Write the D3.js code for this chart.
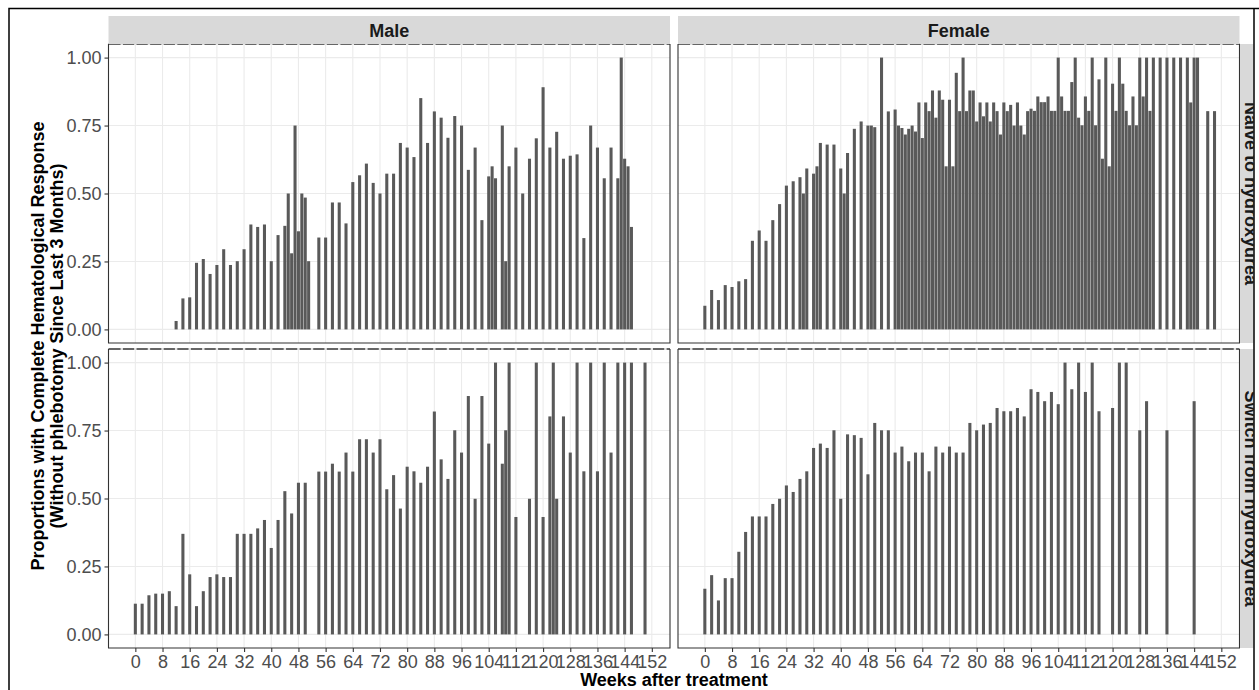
<!DOCTYPE html>
<html>
<head>
<meta charset="utf-8">
<script src="https://cdn.jsdelivr.net/npm/d3@7"></script>
<style>
  body { margin: 0; background: #fff; }
  svg { display: block; font-family: "Liberation Sans", Arial, sans-serif; }
</style>
</head>
<body>
<svg id="canvas" width="1259" height="690"></svg>
<script>
const sexes = ["Male", "Female"];
const groups = ["Naive to hydroxyurea", "Switch from hydroxyurea"];
const xTicks = [0, 8, 16, 24, 32, 40, 48, 56, 64, 72, 80, 88, 96, 104, 112, 120, 128, 136, 144, 152];
const yTicks = [0, 0.25, 0.5, 0.75, 1];
const yTitle = ["Proportions with Complete Hematological Response", "(Without phlebotomy Since Last 3 Months)"];
const xTitle = "Weeks after treatment";

// [week, proportion]
const maleNaive = [
  [12, 0.031], [14, 0.114], [16, 0.118], [18, 0.245], [20, 0.259], [22, 0.204], [24, 0.237], [26, 0.295],
  [28, 0.237], [30, 0.251], [32, 0.295], [34, 0.386], [36, 0.377], [38, 0.386], [40, 0.251], [42, 0.347],
  [44, 0.381], [45, 0.5], [46, 0.28], [47, 0.75], [48, 0.361], [49, 0.5], [50, 0.485], [51, 0.251],
  [54, 0.338], [56, 0.338], [58, 0.467], [60, 0.467], [62, 0.39], [64, 0.542], [66, 0.567], [68, 0.61],
  [70, 0.539], [72, 0.5], [74, 0.573], [76, 0.573], [78, 0.686], [80, 0.669], [82, 0.634], [84, 0.851],
  [86, 0.686], [88, 0.802], [90, 0.779], [92, 0.705], [94, 0.785], [96, 0.75], [98, 0.587], [100, 0.669],
  [102, 0.402], [104, 0.563], [105, 0.6], [106, 0.556], [108, 0.75], [109, 0.251], [110, 0.6], [112, 0.669],
  [114, 0.5], [116, 0.628], [118, 0.703], [120, 0.891], [122, 0.669], [124, 0.727], [126, 0.628], [128, 0.639],
  [130, 0.644], [132, 0.336], [134, 0.75], [136, 0.669], [138, 0.556], [140, 0.669], [142, 0.556], [143, 1],
  [144, 0.628], [145, 0.6], [146, 0.377]
];

const femaleNaive = [
  [0, 0.087], [2, 0.145], [4, 0.108], [6, 0.163], [8, 0.156], [10, 0.177], [12, 0.185], [14, 0.326],
  [16, 0.364], [18, 0.326], [20, 0.402], [22, 0.461], [24, 0.529], [26, 0.545], [28, 0.56], [29, 0.5],
  [30, 0.592], [32, 0.573], [33, 0.6], [34, 0.686], [36, 0.68], [38, 0.68], [40, 0.592], [41, 0.5],
  [42, 0.649], [44, 0.738], [46, 0.765], [48, 0.75], [49, 0.75], [50, 0.744], [52, 1], [54, 0.802],
  [56, 0.809], [57, 0.75], [58, 0.741], [59, 0.717], [60, 0.738], [61, 0.75], [62, 0.728], [63, 0.835],
  [64, 0.704], [65, 0.835], [66, 0.803], [67, 0.879], [68, 0.779], [69, 0.879], [70, 0.845], [71, 0.6],
  [72, 0.845], [73, 0.6], [74, 0.944], [75, 0.803], [76, 1], [77, 0.803], [78, 0.879], [79, 0.879],
  [80, 0.765], [81, 0.835], [82, 0.784], [83, 0.835], [84, 0.765], [85, 0.835], [86, 0.803], [87, 0.717],
  [88, 0.835], [89, 0.803], [90, 0.826], [91, 0.75], [92, 0.835], [93, 0.75], [94, 0.717], [95, 0.803],
  [96, 0.812], [97, 0.804], [98, 0.857], [99, 0.836], [100, 0.836], [101, 0.857], [102, 0.804], [103, 0.804],
  [104, 1], [105, 0.857], [106, 0.804], [107, 0.804], [108, 0.91], [109, 1], [110, 0.779], [111, 0.751],
  [112, 0.857], [113, 0.804], [114, 1], [115, 0.751], [116, 0.92], [117, 0.628], [118, 1], [119, 0.6],
  [120, 0.904], [121, 0.804], [122, 1], [123, 0.904], [124, 0.804], [125, 0.751], [126, 0.857], [127, 0.751],
  [128, 1], [129, 0.857], [130, 1], [131, 0.804], [132, 1], [134, 1], [136, 1], [138, 1],
  [140, 1], [142, 1], [143, 0.835], [144, 1], [145, 1], [148, 0.803], [150, 0.803]
];

const maleSwitch = [
  [0, 0.113], [2, 0.113], [4, 0.144], [6, 0.15], [8, 0.15], [10, 0.159], [12, 0.104], [14, 0.37],
  [16, 0.221], [18, 0.104], [20, 0.159], [22, 0.211], [24, 0.221], [26, 0.211], [28, 0.211], [30, 0.37],
  [32, 0.37], [34, 0.37], [36, 0.39], [38, 0.421], [40, 0.318], [42, 0.421], [44, 0.527], [46, 0.445],
  [48, 0.558], [50, 0.558], [54, 0.599], [56, 0.599], [58, 0.628], [60, 0.599], [62, 0.669], [64, 0.599],
  [66, 0.718], [68, 0.718], [70, 0.669], [72, 0.718], [74, 0.534], [76, 0.586], [78, 0.463], [80, 0.617],
  [82, 0.6], [84, 0.558], [86, 0.617], [88, 0.82], [90, 0.644], [92, 0.572], [94, 0.751], [96, 0.669],
  [98, 0.877], [100, 0.499], [102, 0.877], [104, 0.702], [106, 1], [108, 0.628], [109, 0.751], [110, 1],
  [112, 0.432], [116, 0.499], [118, 1], [120, 0.432], [122, 0.802], [123, 1], [124, 0.499], [126, 0.802],
  [128, 0.669], [130, 1], [132, 0.6], [134, 1], [136, 0.6], [138, 1], [140, 0.669], [142, 1],
  [144, 1], [146, 1], [150, 1]
];

const femaleSwitch = [
  [0, 0.168], [2, 0.218], [4, 0.125], [6, 0.207], [8, 0.207], [10, 0.304], [12, 0.377], [14, 0.434],
  [16, 0.434], [18, 0.434], [20, 0.48], [22, 0.499], [24, 0.548], [26, 0.524], [28, 0.572], [30, 0.6],
  [32, 0.686], [34, 0.702], [36, 0.686], [38, 0.751], [40, 0.499], [42, 0.736], [44, 0.733], [46, 0.723],
  [48, 0.589], [50, 0.778], [52, 0.751], [54, 0.751], [56, 0.669], [58, 0.691], [60, 0.637], [62, 0.669],
  [64, 0.669], [66, 0.6], [68, 0.691], [70, 0.669], [72, 0.691], [74, 0.669], [76, 0.669], [78, 0.778],
  [80, 0.751], [82, 0.772], [84, 0.778], [86, 0.833], [88, 0.821], [90, 0.821], [92, 0.833], [94, 0.802],
  [96, 0.902], [98, 0.892], [100, 0.858], [102, 0.892], [104, 0.847], [106, 1], [108, 0.902], [110, 1],
  [112, 0.892], [114, 1], [116, 0.821], [120, 0.833], [122, 1], [124, 1], [128, 0.751], [130, 0.858],
  [136, 0.751], [144, 0.858]
];

const settings = {
  colX: [108.5, 678],
  rowY: [44, 349],
  panelW: 561.5,
  panelH: 299,
  stripTop: 16,
  stripH: 28,
  font: 18,
};

const svg = d3.select('#canvas');

svg.append("rect").attr("width", 1259).attr("height", 690).attr("fill", "#fff");

const x = d3.scaleLinear().domain([-7.9, 157.35]).range([0, settings.panelW]);
const y = d3.scaleLinear().domain([-0.05, 1.05]).range([settings.panelH, 0]);
const barW = x(0.9) - x(0);

const panels = [
  { col: 0, row: 0, data: maleNaive },
  { col: 1, row: 0, data: femaleNaive },
  { col: 0, row: 1, data: maleSwitch },
  { col: 1, row: 1, data: femaleSwitch },
];

panels.forEach(p => {
  const g = svg.append("g")
    .attr("transform", `translate(${settings.colX[p.col]},${settings.rowY[p.row]})`);

  g.append("rect")
    .attr("width", settings.panelW)
    .attr("height", settings.panelH)
    .attr("fill", "#fff");

  g.append("g").selectAll("line")
    .data(xTicks)
    .join("line")
    .attr("x1", d => x(d)).attr("x2", d => x(d))
    .attr("y1", 0).attr("y2", settings.panelH)
    .attr("stroke", "#ebebeb").attr("stroke-width", 1.1);

  g.append("g").selectAll("line")
    .data(yTicks)
    .join("line")
    .attr("x1", 0).attr("x2", settings.panelW)
    .attr("y1", d => y(d)).attr("y2", d => y(d))
    .attr("stroke", "#ebebeb").attr("stroke-width", 1.1);

  g.append("g").selectAll("rect")
    .data(p.data)
    .join("rect")
    .attr("x", d => x(d[0]) - barW / 2)
    .attr("y", d => y(d[1]))
    .attr("width", barW)
    .attr("height", d => y(0) - y(d[1]))
    .attr("fill", "#595959");

  // border: solid sides and bottom, top line broken by the grid
  g.append("path")
    .attr("d", `M0,0V${settings.panelH}H${settings.panelW}V0`)
    .attr("fill", "none").attr("stroke", "#333").attr("stroke-width", 1.1);
  g.append("line")
    .attr("x1", 0).attr("x2", settings.panelW)
    .attr("y1", 0).attr("y2", 0)
    .attr("stroke", "#333").attr("stroke-width", 1.3);
  g.append("g").selectAll("line")
    .data(d3.range(-4, 158, 4))
    .join("line")
    .attr("x1", d => x(d)).attr("x2", d => x(d))
    .attr("y1", -1).attr("y2", 1)
    .attr("stroke", "#e4e4e4").attr("stroke-width", 2.4);

  if (p.col === 0) {
    const ax = g.append("g")
      .call(d3.axisLeft(y).tickValues(yTicks).tickFormat(d3.format(".2f")).tickSize(4).tickPadding(3));
    styleAxis(ax);
  }
  if (p.row === 1) {
    const ax = g.append("g")
      .attr("transform", `translate(0,${settings.panelH})`)
      .call(d3.axisBottom(x).tickValues(xTicks).tickSize(4).tickPadding(3));
    styleAxis(ax);
  }
});

function styleAxis(ax) {
  ax.select(".domain").remove();
  ax.attr("font-family", null).attr("font-size", null);
  ax.selectAll(".tick line").attr("stroke", "#333").attr("stroke-width", 1.1);
  ax.selectAll(".tick text")
    .attr("fill", "#4d4d4d")
    .style("font-size", settings.font + "px")
    .style("font-family", '"Liberation Sans", Arial, sans-serif');
}

// top strips
sexes.forEach((s, i) => {
  svg.append("rect")
    .attr("x", settings.colX[i]).attr("y", settings.stripTop)
    .attr("width", settings.panelW).attr("height", settings.stripH)
    .attr("fill", "#d9d9d9");
  svg.append("text")
    .attr("x", settings.colX[i] + settings.panelW / 2)
    .attr("y", settings.stripTop + settings.stripH / 2 + 1)
    .attr("text-anchor", "middle")
    .attr("dominant-baseline", "central")
    .attr("font-weight", "bold")
    .attr("font-size", settings.font)
    .attr("fill", "#1a1a1a")
    .text(s);
});

// right strips, cut off by the frame
svg.append("clipPath").attr("id", "rclip")
  .append("rect").attr("x", 0).attr("y", 0).attr("width", 1253.5).attr("height", 690);
const rs = svg.append("g").attr("clip-path", "url(#rclip)");
groups.forEach((gName, i) => {
  const top = settings.rowY[i];
  const right = settings.colX[1] + settings.panelW;
  rs.append("rect")
    .attr("x", right + 0.5).attr("y", top)
    .attr("width", 24).attr("height", settings.panelH)
    .attr("fill", "#d9d9d9");
  rs.append("text")
    .attr("transform", `translate(${right + 5},${top + settings.panelH / 2}) rotate(90)`)
    .attr("text-anchor", "middle")
    .attr("font-weight", "bold")
    .attr("font-size", settings.font)
    .attr("fill", "#1a1a1a")
    .text(gName);
});

// axis titles
const yMid = (settings.rowY[0] + settings.rowY[1] + settings.panelH) / 2;
yTitle.forEach((t, i) => {
  svg.append("text")
    .attr("transform", `translate(${37.5 + i * 19.5},${yMid}) rotate(-90)`)
    .attr("text-anchor", "middle")
    .attr("dominant-baseline", "central")
    .attr("font-weight", "bold")
    .attr("font-size", settings.font)
    .attr("fill", "#000")
    .text(t);
});

svg.append("text")
  .attr("x", (settings.colX[0] + settings.colX[1] + settings.panelW) / 2)
  .attr("y", 686)
  .attr("text-anchor", "middle")
  .attr("font-weight", "bold")
  .attr("font-size", settings.font)
  .attr("fill", "#000")
  .text(xTitle);

// outer frame
svg.append("path")
  .attr("d", "M9,690V8.5H1259M1254,8.5V690")
  .attr("fill", "none")
  .attr("stroke", "#000")
  .attr("stroke-width", 1.5);
</script>
</body>
</html>
